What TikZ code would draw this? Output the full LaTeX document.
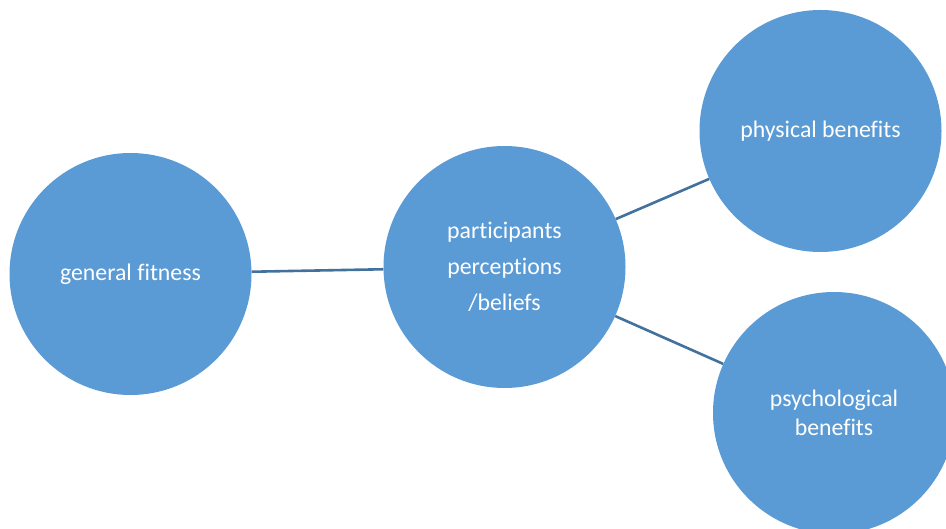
\documentclass[tikz,border=0pt]{standalone}
\usepackage{fontspec}
\setmainfont[RawFeature={-liga;-clig;-dlig}]{Carlito}
\definecolor{bubble}{HTML}{5B9BD5}
\definecolor{link}{HTML}{41719C}
\begin{document}
\begin{tikzpicture}[x=1pt,y=-1pt,
  bubble/.style={circle,fill=bubble,draw=none,minimum size=242pt,inner sep=0pt,
    text=white,align=center,font=\fontsize{23.8}{28.5}\selectfont},
  link/.style={draw=link,line width=2.6pt}]
\useasboundingbox (0,0) rectangle (946,529);
\clip (0,0) rectangle (946,529);
\node[bubble] (gen) at (130.5,274) {general fitness};
\node[bubble,font=\fontsize{23.8}{36}\selectfont] (part) at (504.5,267) {participants\\perceptions\\/beliefs};
\node[bubble] (phys) at (820.5,131) {physical benefits};
\node[bubble] (psych) at (834,413) {psychological\\benefits};
\draw[link] (gen) -- (part);
\draw[link] (part) -- (phys);
\draw[link] (part) -- (psych);
\end{tikzpicture}
\end{document}
